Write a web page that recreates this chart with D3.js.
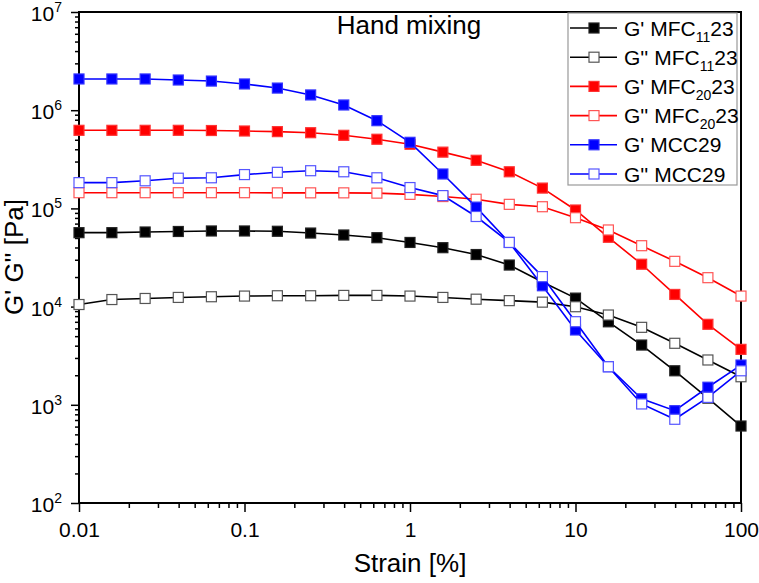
<!DOCTYPE html>
<html lang="en">
<head>
<meta charset="UTF-8">
<title>Strain sweep - hand mixing</title>
<script src="https://d3js.org/d3.v7.min.js"></script>
<style>
body { margin: 0; background: #fff; }
svg { font-family: Arial, "Liberation Sans", sans-serif; }
.frame { fill: none; stroke: #000; stroke-width: 2; }
.axis path { display: none; }
.axis line { stroke: #000; stroke-width: 1.5; }
.axis text { font-size: 21px; fill: #000; font-family: Arial, "Liberation Sans", sans-serif; }
.ylab { font-size: 21px; fill: #000; }
.title { font-size: 26px; fill: #000; }
.legend text { font-size: 21px; fill: #000; }
</style>
</head>
<body>
<script>
var width = 759, height = 583;
var margin = {left: 79, right: 18, top: 12, bottom: 80};

// strain [%]
var strain = [0.01, 0.0158, 0.0251, 0.0398, 0.0631, 0.1, 0.158, 0.251, 0.398, 0.631,
              1, 1.58, 2.51, 3.98, 6.31, 10, 15.8, 25.1, 39.8, 63.1, 100];

// moduli [Pa]
var gpMFC11  = [5.66e4, 5.66e4, 5.75e4, 5.82e4, 5.89e4, 5.89e4, 5.85e4, 5.61e4, 5.36e4, 5.03e4,
                4.5e4, 3.98e4, 3.39e4, 2.65e4, 1.78e4, 1.22e4, 7.0e3, 4.06e3, 2.22e3, 1.17e3, 608];
var gppMFC11 = [1.05e4, 1.18e4, 1.21e4, 1.24e4, 1.26e4, 1.28e4, 1.29e4, 1.29e4, 1.30e4, 1.30e4,
                1.28e4, 1.24e4, 1.19e4, 1.15e4, 1.11e4, 9.97e3, 8.21e3, 6.15e3, 4.23e3, 2.86e3, 1.93e3];
var gpMFC20  = [6.24e5, 6.24e5, 6.24e5, 6.24e5, 6.21e5, 6.14e5, 6.05e5, 5.9e5, 5.55e5, 5.06e5,
                4.5e5, 3.74e5, 3.09e5, 2.36e5, 1.61e5, 9.63e4, 5.08e4, 2.70e4, 1.33e4, 6.6e3, 3.67e3];
var gppMFC20 = [1.445e5, 1.445e5, 1.445e5, 1.445e5, 1.445e5, 1.445e5, 1.44e5, 1.44e5, 1.44e5, 1.43e5,
                1.39e5, 1.32e5, 1.24e5, 1.10e5, 1.04e5, 8.04e4, 6.03e4, 4.17e4, 2.89e4, 1.97e4, 1.28e4];
var gpMCC29  = [2.08e6, 2.08e6, 2.08e6, 2.03e6, 1.98e6, 1.85e6, 1.68e6, 1.43e6, 1.13e6, 7.82e5,
                4.71e5, 2.24e5, 1.03e5, 4.5e4, 1.63e4, 5.78e3, 2.44e3, 1.15e3, 871, 1.51e3, 2.54e3];
var gppMCC29 = [1.83e5, 1.83e5, 1.91e5, 2.03e5, 2.05e5, 2.21e5, 2.33e5, 2.42e5, 2.36e5, 2.05e5,
                1.63e5, 1.35e5, 8.27e4, 4.5e4, 2.02e4, 7.02e3, 2.44e3, 1.02e3, 712, 1.19e3, 2.22e3];

var xTicks = [0.01, 0.1, 1, 10, 100];
var yTicks = [1e2, 1e3, 1e4, 1e5, 1e6, 1e7];

var series = [
    {name: ["G' MFC", "11", "23"], values: gpMFC11,  color: "#000", stroke: "#222", filled: true},
    {name: ["G'' MFC", "11", "23"], values: gppMFC11, color: "#000", stroke: "#555", filled: false},
    {name: ["G' MFC", "20", "23"], values: gpMFC20,  color: "#ff0000", stroke: "#ff3333", filled: true},
    {name: ["G'' MFC", "20", "23"], values: gppMFC20, color: "#ff0000", stroke: "#ff5555", filled: false},
    {name: ["G' MCC29", "", ""], values: gpMCC29,  color: "#0000ff", stroke: "#3333ff", filled: true},
    {name: ["G'' MCC29", "", ""], values: gppMCC29, color: "#0000ff", stroke: "#5555ff", filled: false}
];

var svg = d3.select("body").append("svg")
    .attr("width", width)
    .attr("height", height);

var plotBottom = 503;
var x = d3.scaleLog().domain([0.01, 100]).range([margin.left, width - margin.right]);
var y = d3.scaleLog().domain([1e2, 1e7]).range([plotBottom, margin.top]);

// minor ticks 2..9 in each decade
function minors(lo, hi) {
    var out = [];
    for (var e = lo; e < hi; e++) {
        for (var m = 2; m <= 9; m++) out.push(m * Math.pow(10, e));
    }
    return out;
}

// x axis
svg.append("g").attr("class", "axis")
    .attr("transform", "translate(0," + plotBottom + ")")
    .call(d3.axisBottom(x).tickValues(minors(-2, 2)).tickSize(5).tickFormat(""));
svg.append("g").attr("class", "axis")
    .attr("transform", "translate(0," + plotBottom + ")")
    .call(d3.axisBottom(x).tickValues(xTicks).tickSize(9).tickPadding(10)
        .tickFormat(function(d) { return String(+d.toPrecision(1)); }));

// y axis
svg.append("g").attr("class", "axis")
    .attr("transform", "translate(" + margin.left + ",0)")
    .call(d3.axisLeft(y).tickValues(minors(2, 7)).tickSize(4).tickFormat(""));
svg.append("g").attr("class", "axis")
    .attr("transform", "translate(" + margin.left + ",0)")
    .call(d3.axisLeft(y).tickValues(yTicks).tickSize(8).tickFormat(""));

// y tick labels with superscript exponents
var ylab = svg.append("g").selectAll("text")
    .data(yTicks).enter()
    .append("text")
    .attr("class", "ylab")
    .attr("text-anchor", "end")
    .attr("x", 62)
    .attr("y", function(d) { return y(d) + 9; });
ylab.append("tspan").text("10");
ylab.append("tspan")
    .attr("dy", -9)
    .style("font-size", "14px")
    .text(function(d) { return Math.round(Math.log10(d)); });

// frame
svg.append("rect").attr("class", "frame")
    .attr("x", margin.left).attr("y", margin.top)
    .attr("width", x.range()[1] - margin.left)
    .attr("height", plotBottom - margin.top);

// lines + markers
var line = d3.line()
    .x(function(d) { return x(d[0]); })
    .y(function(d) { return y(d[1]); });

var ms = 10;
series.forEach(function(s) {
    var pts = strain.map(function(v, i) { return [v, s.values[i]]; });
    var g = svg.append("g");
    g.append("path")
        .attr("d", line(pts))
        .attr("fill", "none")
        .attr("stroke", s.color)
        .attr("stroke-width", 1.6);
    g.selectAll("rect").data(pts).enter()
        .append("rect")
        .attr("x", function(d) { return x(d[0]) - ms / 2; })
        .attr("y", function(d) { return y(d[1]) - ms / 2; })
        .attr("width", ms).attr("height", ms)
        .attr("fill", s.filled ? s.color : "#fff")
        .attr("stroke", s.stroke)
        .attr("stroke-width", 1.2);
});

// annotation
svg.append("text").attr("class", "title")
    .attr("x", 409).attr("y", 34)
    .attr("text-anchor", "middle")
    .text("Hand mixing");

// axis titles
svg.append("text").attr("class", "title")
    .attr("x", 410).attr("y", 572)
    .attr("text-anchor", "middle")
    .text("Strain [%]");
svg.append("text").attr("class", "title")
    .attr("transform", "translate(23,257) rotate(-90)")
    .attr("text-anchor", "middle")
    .text("G' G'' [Pa]");

// legend
var legend = svg.append("g").attr("class", "legend");
legend.append("rect")
    .attr("x", 568).attr("y", 13)
    .attr("width", 169).attr("height", 172)
    .attr("fill", "#fff")
    .attr("stroke", "#999")
    .attr("stroke-width", 1.2);

var rows = legend.selectAll(".row")
    .data(series).enter()
    .append("g").attr("class", "row")
    .attr("transform", function(d, i) { return "translate(0," + (28 + i * 29.2) + ")"; });
rows.append("line")
    .attr("x1", 570).attr("x2", 617)
    .attr("stroke", function(d) { return d.color; })
    .attr("stroke-width", 1.6);
rows.append("rect")
    .attr("x", 594 - ms / 2).attr("y", -ms / 2)
    .attr("width", ms).attr("height", ms)
    .attr("fill", function(d) { return d.filled ? d.color : "#fff"; })
    .attr("stroke", function(d) { return d.stroke; })
    .attr("stroke-width", 1.2);
var lt = rows.append("text").attr("x", 624).attr("y", 7.5);
lt.append("tspan").text(function(d) { return d.name[0]; });
lt.filter(function(d) { return d.name[1]; }).append("tspan")
    .attr("dy", 6).style("font-size", "14px")
    .text(function(d) { return d.name[1]; });
lt.filter(function(d) { return d.name[2]; }).append("tspan")
    .attr("dy", -6)
    .text(function(d) { return d.name[2]; });
</script>
</body>
</html>
